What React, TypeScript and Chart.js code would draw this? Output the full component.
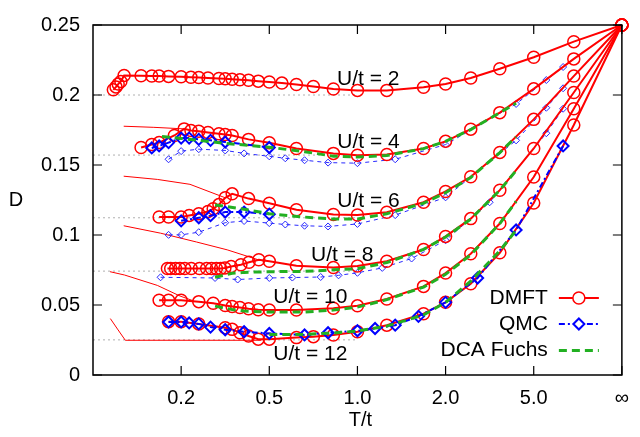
import React, { useEffect, useRef } from "react";
import { Chart, registerables } from "chart.js";

Chart.register(...registerables);

const FONT = "'Liberation Sans', Arial, Helvetica, sans-serif";

// ---------- axes ----------
const xTickT = [0.2, 0.5, 1, 2, 5, Infinity];
const xTickLabels = ["0.2", "0.5", "1.0", "2.0", "5.0", "∞"];
const yTickValues = [0, 0.05, 0.1, 0.15, 0.2, 0.25];
const yTickLabels = ["0", "0.05", "0.1", "0.15", "0.2", "0.25"];
const seriesNames = ["DMFT", "QMC", "DCA Fuchs"];
const xTitle = "T/t";
const yTitle = "D";

// ---------- DMFT ----------
const tDmftU2 = [0.04, 0.0455, 0.05, 0.0556, 0.0625, 0.1, 0.125, 0.1429, 0.1667, 0.2, 0.2273, 0.25, 0.2778, 0.3125, 0.3333, 0.3571, 0.3846, 0.4167, 0.4545, 0.5, 0.5556, 0.625, 0.7143, 0.8333, 1, 1.25, 1.6667, 2, 2.5, 3.3333, 5, 10, Infinity];
const dDmftU2 = [0.2037, 0.2058, 0.2078, 0.2097, 0.214, 0.2137, 0.2136, 0.2135, 0.2133, 0.213, 0.2127, 0.2125, 0.2122, 0.2118, 0.2116, 0.2113, 0.2109, 0.2105, 0.2099, 0.2093, 0.2085, 0.2075, 0.2061, 0.2043, 0.2033, 0.2033, 0.2055, 0.2079, 0.2121, 0.2187, 0.227, 0.2381, 0.25];

const tDmftU4 = [0.1, 0.125, 0.1429, 0.1818, 0.2083, 0.2273, 0.25, 0.2778, 0.3125, 0.3333, 0.3571, 0.4167, 0.5, 0.625, 0.8333, 1, 1.25, 1.6667, 2, 2.5, 3.3333, 5, 10, Infinity];
const dDmftU4 = [0.1625, 0.1646, 0.166, 0.1711, 0.1758, 0.1746, 0.1741, 0.1732, 0.1723, 0.1718, 0.1711, 0.1683, 0.1659, 0.1618, 0.1583, 0.157, 0.1575, 0.1618, 0.1669, 0.1756, 0.1874, 0.2044, 0.2258, 0.25];

const tDmftU6 = [0.1429, 0.1667, 0.2, 0.2222, 0.25, 0.2778, 0.2941, 0.3125, 0.3333, 0.3571, 0.4167, 0.5, 0.625, 0.8333, 1, 1.25, 1.6667, 2, 2.5, 3.3333, 5, 10, Infinity];
const dDmftU6 = [0.1128, 0.1128, 0.1128, 0.114, 0.1152, 0.1168, 0.1187, 0.1217, 0.1266, 0.1294, 0.126, 0.1227, 0.118, 0.1147, 0.1143, 0.1163, 0.1234, 0.1311, 0.1416, 0.159, 0.1826, 0.2135, 0.25];

const tDmftU8 = [0.1638, 0.1722, 0.185, 0.1966, 0.2099, 0.2281, 0.252, 0.2736, 0.2888, 0.3043, 0.318, 0.3323, 0.3534, 0.3882, 0.4184, 0.4567, 0.5, 0.625, 0.8333, 1, 1.25, 1.6667, 2, 2.5, 3.3333, 5, 10, Infinity];
const dDmftU8 = [0.0761, 0.0761, 0.0761, 0.0761, 0.0761, 0.0761, 0.0761, 0.0761, 0.0761, 0.0761, 0.0761, 0.0765, 0.0775, 0.0788, 0.0805, 0.0823, 0.0812, 0.078, 0.0768, 0.0779, 0.0812, 0.0896, 0.099, 0.1117, 0.132, 0.1618, 0.2018, 0.25];

const tDmftU10 = [0.1429, 0.1667, 0.2, 0.25, 0.2941, 0.3333, 0.3571, 0.3846, 0.4167, 0.4545, 0.5, 0.625, 0.8333, 1, 1.25, 1.6667, 2, 2.5, 3.3333, 5, 10, Infinity];
const dDmftU10 = [0.0534, 0.0534, 0.0534, 0.0524, 0.0512, 0.0496, 0.0489, 0.0482, 0.0473, 0.0466, 0.0464, 0.0464, 0.0477, 0.0494, 0.0543, 0.0633, 0.0728, 0.0866, 0.1082, 0.1414, 0.1902, 0.25];

const tDmftU12 = [0.1667, 0.2, 0.25, 0.3333, 0.3571, 0.3846, 0.4167, 0.4545, 0.5, 0.625, 0.7143, 0.8333, 1, 1.25, 1.6667, 2, 2.5, 3.3333, 5, 10, Infinity];
const dDmftU12 = [0.0381, 0.0381, 0.0365, 0.0337, 0.0326, 0.0302, 0.0279, 0.0256, 0.0256, 0.0267, 0.0274, 0.0286, 0.0309, 0.0356, 0.0438, 0.0519, 0.0652, 0.0873, 0.1229, 0.1786, 0.25];

// ---------- DMFT low-temperature continuation (thin) ----------
const tThinU4 = [0.0616, 0.13, 0.2083];
const dThinU4 = [0.1777, 0.1769, 0.1758];
const tThinU6 = [0.0616, 0.1385, 0.2245, 0.3333];
const dThinU6 = [0.142, 0.1397, 0.1362, 0.1266];
const tThinU8 = [0.0616, 0.1465, 0.2434, 0.34, 0.4545];
const dThinU8 = [0.1066, 0.1013, 0.095, 0.0894, 0.0823];
const tThinU10 = [0.0331, 0.0636, 0.1385, 0.197, 0.2329];
const dThinU10 = [0.0738, 0.0714, 0.064, 0.0564, 0.0531];
const tThinU12 = [0.0339, 0.0486, 0.0651, 0.467];
const dThinU12 = [0.0403, 0.0328, 0.0248, 0.0248];

// ---------- ground-state reference levels (dotted) ----------
const groundLevels = [0.2, 0.1571, 0.1123, 0.0742, 0.0251];
const groundT = [0, 1];

// ---------- QMC (bold) ----------
const tQmcU4 = [0.125, 0.1429, 0.1667, 0.2, 0.2222, 0.25, 0.2857, 0.3333, 0.5];
const dQmcU4 = [0.1622, 0.1636, 0.166, 0.1692, 0.1692, 0.1683, 0.1676, 0.1664, 0.1625];
const tQmcU6 = [0.2, 0.25, 0.2857, 0.3333, 0.4, 0.5];
const dQmcU6 = [0.1101, 0.1123, 0.1138, 0.1164, 0.1164, 0.1149];
const tQmcU12 = [0.1667, 0.2, 0.2222, 0.25, 0.2857, 0.3333, 0.4, 0.5, 0.6667, 0.8, 1, 1.1429, 1.3333, 1.6, 2, 2.6667, 4, 8];
const dQmcU12 = [0.0379, 0.0379, 0.0372, 0.0365, 0.0342, 0.0323, 0.0309, 0.0297, 0.0286, 0.0302, 0.0316, 0.0332, 0.0356, 0.0419, 0.0519, 0.0693, 0.1036, 0.1636];

// ---------- QMC (small, thin) ----------
const tQmcSmallU4 = [0.1667, 0.2, 0.25, 0.3333, 0.4, 0.5, 0.5714, 0.6667, 0.8, 1, 1.3333, 2, 4, 6, 8];
const dQmcSmallU4 = [0.1541, 0.1599, 0.1613, 0.1604, 0.1583, 0.1562, 0.1548, 0.1534, 0.1517, 0.1513, 0.1541, 0.1646, 0.1936, 0.2107, 0.22];
const tQmcSmallU6 = [0.1667, 0.2, 0.25, 0.3333, 0.4, 0.5, 0.5714, 0.6667, 0.8, 1, 1.3333, 2, 4, 6, 8];
const dQmcSmallU6 = [0.1001, 0.1001, 0.102, 0.1088, 0.11, 0.1085, 0.1075, 0.1066, 0.1061, 0.1079, 0.1142, 0.1269, 0.1676, 0.1909, 0.2048];
const tQmcSmallU8 = [0.1465, 0.3, 0.3765, 0.5, 0.605, 0.756, 0.8667, 1, 1.207, 1.515, 2, 3, 6, 8];
const dQmcSmallU8 = [0.0698, 0.0693, 0.0682, 0.0693, 0.0696, 0.07, 0.0712, 0.073, 0.0765, 0.0832, 0.0962, 0.1234, 0.1727, 0.1902];

// ---------- DCA Fuchs ----------
const tDcaU4 = [0.15, 0.2, 0.25, 0.3333, 0.5, 0.6667, 0.8333, 1, 1.25, 1.6667, 2, 2.5, 3.3333, 4];
const dDcaU4 = [0.1704, 0.169, 0.1676, 0.1655, 0.1627, 0.1595, 0.1563, 0.1557, 0.1568, 0.1617, 0.1669, 0.1753, 0.1874, 0.1941];
const tDcaU6 = [0.3, 0.4, 0.5, 0.6667, 0.8333, 1, 1.25, 1.6667, 2, 2.5, 3.3333, 4];
const dDcaU6 = [0.1215, 0.1184, 0.1152, 0.1128, 0.1114, 0.1114, 0.1152, 0.1227, 0.1302, 0.1411, 0.1589, 0.17];
const tDcaU8 = [0.3, 0.3571, 0.4, 0.5, 0.6667, 0.8333, 1, 1.25, 1.6667, 2, 2.5, 3.3333, 4];
const dDcaU8 = [0.0698, 0.0726, 0.0733, 0.0738, 0.074, 0.0751, 0.0759, 0.0803, 0.0897, 0.0985, 0.1114, 0.132, 0.146];
const tDcaU10 = [0.3, 0.3571, 0.4, 0.5, 0.6667, 0.8333, 1, 1.25, 1.6667, 2, 2.5, 3.3333, 4];
const dDcaU10 = [0.0492, 0.0468, 0.0457, 0.045, 0.045, 0.0464, 0.0485, 0.0538, 0.0628, 0.0719, 0.0859, 0.1082, 0.124];
const tDcaU12 = [0.5, 0.6667, 0.8333, 1, 1.25, 1.6667, 2, 2.5, 3.3333, 4];
const dDcaU12 = [0.029, 0.029, 0.03, 0.0314, 0.0349, 0.0429, 0.0519, 0.067, 0.0887, 0.1034];

// ---------- curve annotations ----------
const curveLabels = ["U/t = 2", "U/t = 4", "U/t = 6", "U/t = 8", "U/t = 10", "U/t = 12"];
const curveLabelT = [1.085, 1.087, 1.087, 0.8915, 0.698, 0.698];
const curveLabelD = [0.2116, 0.1664, 0.1241, 0.0854, 0.0559, 0.0152];

const RED = "#ff0000";
const BLUE = "#0000ff";
const GREEN = "#22b022";

// axis variable: T/(1+T), so T = infinity maps to 1
const toX = (T: number) => (T === Infinity ? 1 : T / (1 + T));
const pts = (T: number[], D: number[]) => T.map((t, i) => ({ x: toX(t), y: D[i] }));

function makeDatasets() {
  const ds: any[] = [];
  groundLevels.forEach((lvl) => {
    ds.push({
      data: pts(groundT, groundT.map(() => lvl)),
      showLine: true, borderColor: "#b0b0b0", borderWidth: 1, borderDash: [2, 3],
      pointRadius: 0, order: 10,
    });
  });
  [[tThinU4, dThinU4], [tThinU6, dThinU6], [tThinU8, dThinU8], [tThinU10, dThinU10], [tThinU12, dThinU12]].forEach(([t, d]) => {
    ds.push({ data: pts(t, d), showLine: true, borderColor: RED, borderWidth: 1, pointRadius: 0, order: 9 });
  });
  [[tQmcSmallU4, dQmcSmallU4], [tQmcSmallU6, dQmcSmallU6], [tQmcSmallU8, dQmcSmallU8]].forEach(([t, d]) => {
    ds.push({
      data: pts(t, d), showLine: true, borderColor: "#2828ff", borderWidth: 1, borderDash: [4, 4],
      pointStyle: "rectRot", pointRadius: 3.5, pointBorderWidth: 1, pointBorderColor: "#2828ff",
      pointBackgroundColor: "rgba(0,0,0,0)", order: 8,
    });
  });
  [[tDmftU2, dDmftU2], [tDmftU4, dDmftU4], [tDmftU6, dDmftU6], [tDmftU8, dDmftU8], [tDmftU10, dDmftU10], [tDmftU12, dDmftU12]].forEach(([t, d]) => {
    ds.push({
      data: pts(t, d), showLine: true, borderColor: RED, borderWidth: 2,
      pointStyle: "circle", pointRadius: 6, pointBorderWidth: 1.5, pointBorderColor: RED,
      pointBackgroundColor: "rgba(0,0,0,0)", order: 7,
    });
  });
  [[tQmcU4, dQmcU4], [tQmcU6, dQmcU6], [tQmcU12, dQmcU12]].forEach(([t, d]) => {
    ds.push({
      data: pts(t, d), showLine: true, borderColor: BLUE, borderWidth: 2, borderDash: [6, 3, 2, 3],
      pointStyle: "rectRot", pointRadius: 5.5, pointBorderWidth: 2, pointBorderColor: BLUE,
      pointBackgroundColor: "rgba(0,0,0,0)", order: 6,
    });
  });
  [[tDcaU4, dDcaU4], [tDcaU6, dDcaU6], [tDcaU8, dDcaU8], [tDcaU10, dDcaU10], [tDcaU12, dDcaU12]].forEach(([t, d]) => {
    ds.push({ data: pts(t, d), showLine: true, borderColor: GREEN, borderWidth: 3, borderDash: [8, 5], pointRadius: 0, order: 5 });
  });
  return ds.map((d) => ({ ...d, clip: false, tension: 0 }));
}

const decorPlugin = {
  id: "decor",
  afterDraw(chart: any) {
    const { ctx, chartArea } = chart;
    const { left, right, top, bottom } = chartArea;
    const xs = chart.scales.x;
    const ys = chart.scales.y;
    ctx.save();
    // frame
    ctx.strokeStyle = "#000";
    ctx.lineWidth = 1.5;
    ctx.setLineDash([]);
    ctx.strokeRect(left, top, right - left, bottom - top);
    // inner tick marks, mirrored
    const tl = 9;
    ctx.lineWidth = 1.2;
    ctx.beginPath();
    xTickT.forEach((t) => {
      const px = xs.getPixelForValue(toX(t));
      ctx.moveTo(px, bottom); ctx.lineTo(px, bottom - tl);
      ctx.moveTo(px, top); ctx.lineTo(px, top + tl);
    });
    yTickValues.forEach((v) => {
      const py = ys.getPixelForValue(v);
      ctx.moveTo(left, py); ctx.lineTo(left + tl, py);
      ctx.moveTo(right, py); ctx.lineTo(right - tl, py);
    });
    ctx.stroke();

    // curve labels
    ctx.fillStyle = "#000";
    ctx.font = `21px ${FONT}`;
    ctx.textAlign = "center";
    ctx.textBaseline = "middle";
    curveLabels.forEach((s, i) => {
      ctx.fillText(s, xs.getPixelForValue(toX(curveLabelT[i])), ys.getPixelForValue(curveLabelD[i]));
    });

    // axis titles
    ctx.font = `20px ${FONT}`;
    ctx.fillText(yTitle, 16, (top + bottom) / 2);
    ctx.fillText(xTitle, (left + right) / 2 + 3, 420);

    // legend
    ctx.font = `21px ${FONT}`;
    ctx.textAlign = "right";
    const tx = right - 74;
    const x1 = right - 63;
    const x2 = right - 23;
    const xm = (x1 + x2) / 2;
    const rows = [bottom - 77, bottom - 51, bottom - 24.5];
    seriesNames.forEach((s, i) => ctx.fillText(s, tx, rows[i]));
    // DMFT sample
    ctx.strokeStyle = RED; ctx.lineWidth = 2; ctx.setLineDash([]);
    ctx.beginPath(); ctx.moveTo(x1, rows[0]); ctx.lineTo(x2, rows[0]); ctx.stroke();
    ctx.lineWidth = 1.5;
    ctx.beginPath(); ctx.arc(xm, rows[0], 6, 0, Math.PI * 2); ctx.fillStyle = "#fff"; ctx.fill(); ctx.stroke();
    // QMC sample
    ctx.strokeStyle = BLUE; ctx.lineWidth = 2; ctx.setLineDash([6, 3, 2, 3]);
    ctx.beginPath(); ctx.moveTo(x1, rows[1]); ctx.lineTo(x2, rows[1]); ctx.stroke();
    ctx.setLineDash([]);
    ctx.beginPath();
    ctx.moveTo(xm, rows[1] - 5.5); ctx.lineTo(xm + 5.5, rows[1]); ctx.lineTo(xm, rows[1] + 5.5); ctx.lineTo(xm - 5.5, rows[1]); ctx.closePath();
    ctx.fill(); ctx.stroke();
    // DCA sample
    ctx.strokeStyle = GREEN; ctx.lineWidth = 3; ctx.setLineDash([8, 5]);
    ctx.beginPath(); ctx.moveTo(x1, rows[2]); ctx.lineTo(x2, rows[2]); ctx.stroke();
    ctx.restore();
  },
};

export default function App() {
  const ref = useRef<HTMLCanvasElement | null>(null);
  useEffect(() => {
    if (!ref.current) return;
    const chart = new Chart(ref.current, {
      type: "scatter",
      data: { datasets: makeDatasets() },
      options: {
        responsive: false,
        animation: false,
        events: [],
        layout: { padding: { left: 0, top: 17, right: 7, bottom: 0 } },
        plugins: { legend: { display: false }, tooltip: { enabled: false } },
        scales: {
          x: {
            type: "linear", min: 0, max: 1,
            grid: { display: false, drawTicks: false },
            border: { display: false },
            afterBuildTicks: (s: any) => { s.ticks = xTickT.map((t) => ({ value: toX(t) })); },
            afterFit: (s: any) => { s.height = 62; },
            ticks: {
              autoSkip: false, maxRotation: 0, padding: 11, color: "#000",
              font: { family: FONT, size: 20 },
              callback: (_v: any, i: number) => xTickLabels[i],
            },
          },
          y: {
            type: "linear", min: 0, max: 0.25,
            grid: { display: false, drawTicks: false },
            border: { display: false },
            afterBuildTicks: (s: any) => { s.ticks = yTickValues.map((v) => ({ value: v })); },
            afterFit: (s: any) => { s.width = 93; },
            ticks: {
              autoSkip: false, padding: 13, color: "#000",
              font: { family: FONT, size: 20 },
              callback: (_v: any, i: number) => yTickLabels[i],
            },
          },
        },
      },
      plugins: [decorPlugin],
    });
    return () => chart.destroy();
  }, []);
  return (
    <div style={{ position: "absolute", left: 0, top: 0, width: 640, height: 437, background: "#fff" }}>
      <canvas ref={ref} width={640} height={437} style={{ display: "block" }} />
    </div>
  );
}
